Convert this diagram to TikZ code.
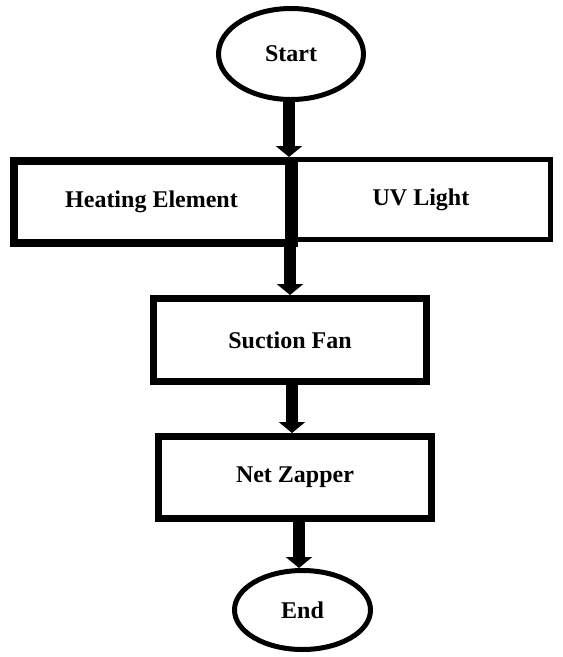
\documentclass[tikz,border=0pt]{standalone}
\usepackage{fontspec}
\setmainfont{Liberation Serif}
\usetikzlibrary{shapes.geometric,arrows.meta}
\begin{document}
\begin{tikzpicture}[x=1pt,y=-1pt,
  lbl/.style={font=\fontsize{24}{27}\selectfont\bfseries, inner sep=0pt},
  oval/.style={lbl, ellipse, draw, line width=5pt},
  boxA/.style={lbl, rectangle, draw, line width=7pt},
  flow/.style={line width=12pt, -{Triangle[width=26pt,length=11pt]}},
  divider/.style={line width=9pt}]
\useasboundingbox (0,0) rectangle (563,657);
\node[oval, minimum width=145pt, minimum height=91pt] (start) at (291,54) {Start};
\node[boxA, line width=8pt, minimum width=275pt, minimum height=82pt] (heat) at (151.5,202) {Heating Element};
\node[boxA, line width=5pt, minimum width=258pt, minimum height=80pt] (uv) at (421,199.5) {UV Light};
\node[boxA, minimum width=273pt, minimum height=83pt] (fan) at (290,340) {Suction Fan};
\node[boxA, minimum width=273pt, minimum height=82pt] (zap) at (295,477.5) {Net Zapper};
\node[oval, minimum width=136pt, minimum height=79pt] (end) at (302.5,610) {End};
\draw[divider] (heat.north east) -- (heat.south east);
\draw[flow] (start.south) ++(-2,0) coordinate (ss) -- (ss |- heat.north);
\draw[flow] (fan.north |- heat.south) -- (fan.north);
\draw[flow] (fan.south) ++(2,0) coordinate (fs) -- (fs |- zap.north);
\draw[flow] (zap.south) ++(4,0) coordinate (zs) -- (zs |- end.north);
\end{tikzpicture}
\end{document}
